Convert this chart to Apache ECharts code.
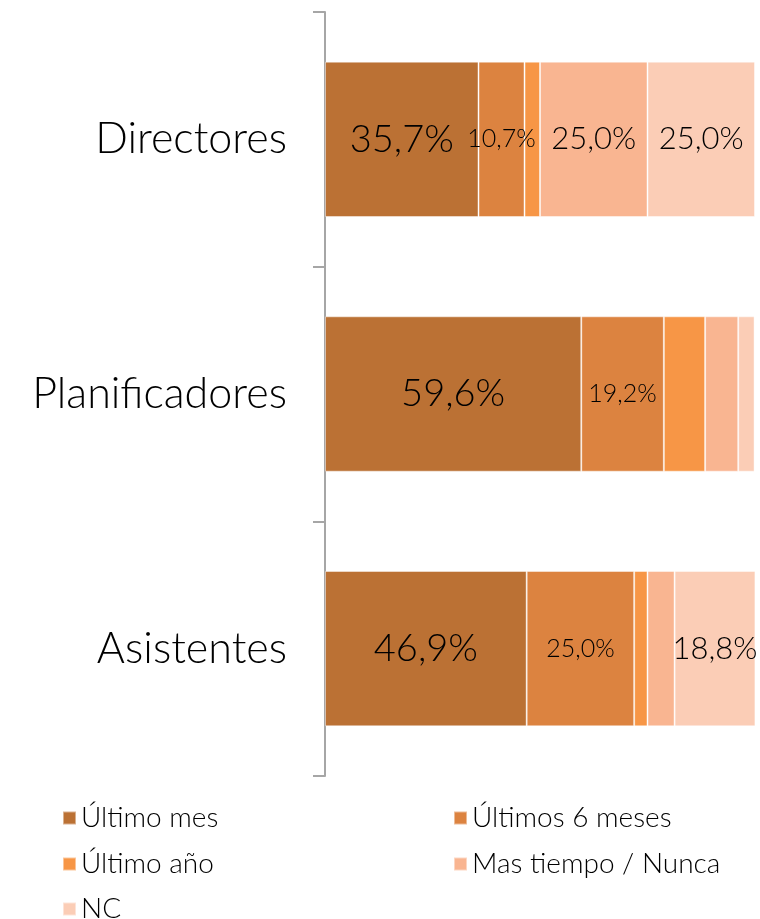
<!DOCTYPE html>
<html>
<head>
<meta charset="utf-8">
<title>Chart</title>
<script src="https://cdn.jsdelivr.net/npm/echarts@6/dist/echarts.min.js"></script>
<style>
  html, body { margin: 0; padding: 0; background: #fff; }
  #chart { width: 760px; height: 919px; }
</style>
</head>
<body>
<div id="chart"></div>
<script>
  // categorias (de arriba a abajo)
  const categories = ['Directores', 'Planificadores', 'Asistentes'];
  const seriesNames = ['Último mes', 'Últimos 6 meses', 'Último año', 'Mas tiempo / Nunca', 'NC'];

  // porcentajes por serie, en el orden de categories
  const ultimoMes = [35.7, 59.6, 46.9];
  const ultimos6Meses = [10.7, 19.2, 25.0];
  const ultimoAno = [3.6, 9.6, 3.1];
  const masTiempo = [25.0, 7.7, 6.3];
  const nc = [25.0, 3.8, 18.8];

  const colors = ['#BB7134', '#DC8340', '#F79646', '#F9B591', '#FBCDB6'];

  // tamaño de etiqueta por serie/categoria (0 = sin etiqueta)
  const labelSizes = [
    [38, 38, 38],
    [25, 25, 25],
    [0, 0, 0],
    [31, 0, 0],
    [31, 0, 31]
  ];

  const values = [ultimoMes, ultimos6Meses, ultimoAno, masTiempo, nc];
  const FONT = 'Lato, "DejaVu Sans", sans-serif';

  const chart = echarts.init(document.getElementById('chart'));

  const series = values.map((vals, s) => ({
    name: seriesNames[s],
    type: 'bar',
    stack: 'total',
    barWidth: '61%',
    itemStyle: {
      color: colors[s],
      borderColor: 'rgba(255,255,255,0.45)',
      borderWidth: 1
    },
    data: vals.map((v, c) => ({
      value: v,
      label: {
        show: labelSizes[s][c] > 0,
        position: 'inside',
        fontSize: labelSizes[s][c] || 12,
        fontFamily: FONT,
        fontWeight: 300,
        color: '#000',
        formatter: (p) => p.value.toFixed(1).replace('.', ',') + '%'
      }
    }))
  }));

  // leyenda en dos columnas: un bloque por elemento
  const legendSpots = [[57, 799], [448, 799], [57, 845], [448, 845], [57, 890]];
  const legends = seriesNames.map((name, i) => ({
    left: legendSpots[i][0],
    top: legendSpots[i][1],
    itemWidth: 13,
    itemHeight: 13,
    icon: 'rect',
    selectedMode: false,
    textStyle: {
      fontSize: 28,
      fontFamily: FONT,
      fontWeight: 300,
      color: '#000'
    },
    data: [name]
  }));

  const option = {
    animation: false,
    color: colors,
    grid: {
      left: 325,
      right: 5,
      top: 12,
      bottom: 143
    },
    legend: legends,
    xAxis: {
      type: 'value',
      min: 0,
      max: 100,
      show: false
    },
    yAxis: {
      type: 'category',
      inverse: true,
      data: categories,
      axisLine: {
        show: true,
        lineStyle: { color: '#A6A6A6', width: 2 }
      },
      axisTick: {
        show: true,
        length: 12,
        lineStyle: { color: '#A6A6A6', width: 2 }
      },
      axisLabel: {
        margin: 38,
        fontSize: 43,
        fontFamily: FONT,
        fontWeight: 300,
        color: '#000'
      }
    },
    series: series
  };

  chart.setOption(option);
</script>
</body>
</html>
